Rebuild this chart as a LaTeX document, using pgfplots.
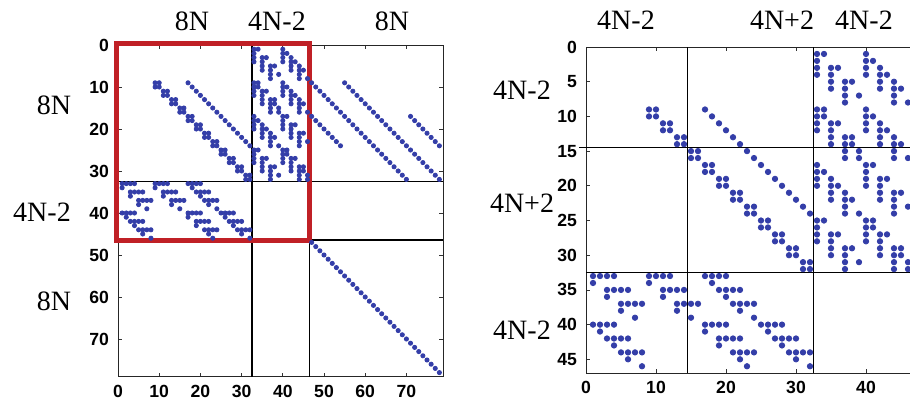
\documentclass[border=0pt]{standalone}
\usepackage{pgfplots}
\usepackage{pgfplotstable}
\pgfplotsset{compat=1.18}
\usepackage{fontspec}
\setmainfont{Liberation Serif}
\newfontfamily\tickfont{Liberation Sans}

\definecolor{spyblue}{RGB}{52,62,168}
\definecolor{boxred}{RGB}{192,32,38}

% Nonzero pattern shared by both matrices (column, row)
\pgfplotstableread{
c r
9 9
10 9
9 10
10 10
11 11
12 11
11 12
12 12
13 13
14 13
13 14
14 14
15 15
16 15
15 16
16 16
17 17
18 17
17 18
18 18
19 19
20 19
19 20
20 20
21 21
22 21
21 22
22 22
23 23
24 23
23 24
24 24
25 25
26 25
25 26
26 26
27 27
28 27
27 28
28 28
29 29
30 29
29 30
30 30
31 31
32 31
31 32
32 32
17 9
18 10
19 11
20 12
21 13
22 14
23 15
24 16
25 17
26 18
27 19
28 20
29 21
30 22
31 23
32 24
33 1
34 1
40 1
33 2
40 2
41 2
33 3
35 3
36 3
40 3
42 3
33 4
35 4
40 4
42 4
43 4
35 5
37 5
38 5
42 5
44 5
35 6
37 6
42 6
44 6
45 6
37 7
39 7
44 7
37 8
44 8
46 8
33 9
34 9
40 9
33 10
34 10
40 10
41 10
33 11
35 11
36 11
40 11
42 11
33 12
35 12
40 12
42 12
43 12
35 13
37 13
38 13
42 13
44 13
35 14
37 14
38 14
42 14
44 14
45 14
37 15
39 15
44 15
37 16
39 16
44 16
46 16
33 17
40 17
41 17
33 18
34 18
40 18
33 19
35 19
40 19
42 19
43 19
33 20
35 20
36 20
40 20
42 20
35 21
37 21
42 21
44 21
45 21
35 22
37 22
38 22
42 22
44 22
37 23
44 23
46 23
37 24
39 24
44 24
33 25
34 25
40 25
41 25
33 26
40 26
41 26
33 27
35 27
36 27
40 27
42 27
43 27
33 28
35 28
40 28
42 28
35 29
37 29
38 29
42 29
44 29
45 29
35 30
37 30
42 30
44 30
45 30
37 31
39 31
44 31
46 31
37 32
44 32
46 32
1 33
2 33
3 33
4 33
9 33
10 33
11 33
12 33
17 33
18 33
19 33
20 33
1 34
9 34
18 34
3 35
4 35
5 35
6 35
11 35
12 35
13 35
14 35
19 35
20 35
21 35
22 35
3 36
11 36
20 36
5 37
6 37
7 37
8 37
13 37
14 37
15 37
16 37
21 37
22 37
23 37
24 37
5 38
13 38
22 38
7 39
15 39
24 39
1 40
2 40
3 40
4 40
17 40
18 40
19 40
20 40
25 40
26 40
27 40
28 40
2 41
17 41
26 41
3 42
4 42
5 42
6 42
19 42
20 42
21 42
22 42
27 42
28 42
29 42
30 42
4 43
19 43
28 43
5 44
6 44
7 44
8 44
21 44
22 44
23 44
24 44
29 44
30 44
31 44
32 44
6 45
22 45
30 45
8 46
23 46
32 46
}\corepattern

% Extra nonzeros of the full 78x78 matrix
\pgfplotstableread{
c r
47 9
48 10
49 11
50 12
51 13
52 14
53 15
54 16
55 17
56 18
57 19
58 20
59 21
60 22
61 23
62 24
63 25
64 26
65 27
66 28
67 29
68 30
69 31
70 32
47 17
48 18
49 19
50 20
51 21
52 22
53 23
54 24
55 9
56 10
57 11
58 12
59 13
60 14
61 15
62 16
63 17
64 18
65 19
66 20
67 21
68 22
69 23
70 24
71 25
72 26
73 27
74 28
75 29
76 30
77 31
78 32
71 17
72 18
73 19
74 20
75 21
76 22
77 23
78 24
47 47
48 48
49 49
50 50
51 51
52 52
53 53
54 54
55 55
56 56
57 57
58 58
59 59
60 60
61 61
62 62
63 63
64 64
65 65
66 66
67 67
68 68
69 69
70 70
71 71
72 72
73 73
74 74
75 75
76 76
77 77
78 78
}\outerpattern

\pgfplotsset{
  spystyle/.style={
    scale only axis,
    y dir=reverse,
    axis line style={black!85, line width=0.5pt},
    tick align=inside,
    major tick length=2pt,
    tick style={black!80, line width=0.4pt},
    /pgf/number format/assume math mode=true,
    tick label style={font=\tickfont\bfseries\fontsize{8.8}{10}\selectfont},
    xticklabel style={yshift=-0.5pt},
    yticklabel style={xshift=-1pt},
    clip=false,
  },
}
\tikzset{blocklabel/.style={font=\fontsize{14}{16}\selectfont}}

\begin{document}
\begin{tikzpicture}
% ---------- full matrix ----------
\begin{axis}[spystyle,
  at={(59pt,-22.5pt)}, anchor=north west,
  width=162.75pt, height=165.9pt,
  xmin=0, xmax=79, ymin=0, ymax=79,
  xtick={0,10,...,70}, ytick={0,10,...,70},
]
\addplot[only marks, mark=*, mark size=1.05pt, color=spyblue, mark options={draw=none, fill=spyblue}]
  table[x=c, y=r] {\corepattern};
\addplot[only marks, mark=*, mark size=1.05pt, color=spyblue, mark options={draw=none, fill=spyblue}]
  table[x=c, y=r] {\outerpattern};
\draw[black, line width=0.8pt] (axis cs:32.5,0) -- (axis cs:32.5,79);
\draw[black, line width=0.8pt] (axis cs:46.5,0) -- (axis cs:46.5,79);
\draw[black, line width=0.8pt] (axis cs:0,32.5) -- (axis cs:79,32.5);
\draw[black, line width=0.8pt] (axis cs:0,46.5) -- (axis cs:79,46.5);
\draw[boxred, line width=2.6pt] (axis cs:-0.3,-0.3) rectangle (axis cs:46.5,46.5);
\end{axis}

% ---------- reduced matrix ----------
\begin{axis}[spystyle,
  at={(293pt,-23.5pt)}, anchor=north west,
  width=164.5pt, height=163.1pt,
  xmin=0, xmax=47, ymin=0, ymax=47,
  xtick={0,10,...,40}, ytick={0,5,...,45},
]
\addplot[only marks, mark=*, mark size=1.35pt, color=spyblue, mark options={draw=none, fill=spyblue}]
  table[x=c, y=r] {\corepattern};
\draw[black, line width=0.8pt] (axis cs:14.5,0) -- (axis cs:14.5,47);
\draw[black, line width=0.8pt] (axis cs:32.5,0) -- (axis cs:32.5,47);
\draw[black, line width=0.8pt] (axis cs:-1,14.5) -- (axis cs:47,14.5);
\draw[black, line width=0.8pt] (axis cs:0,32.5) -- (axis cs:47,32.5);
\end{axis}

% block size labels
\node[blocklabel] at (96pt,-10.5pt) {8N};
\node[blocklabel] at (138.5pt,-10.5pt) {4N-2};
\node[blocklabel] at (196pt,-10.5pt) {8N};
\node[blocklabel] at (27pt,-52.5pt) {8N};
\node[blocklabel] at (21pt,-106pt) {4N-2};
\node[blocklabel] at (27pt,-150.5pt) {8N};

\node[blocklabel] at (313pt,-10pt) {4N-2};
\node[blocklabel] at (391pt,-10pt) {4N+2};
\node[blocklabel] at (432pt,-10pt) {4N-2};
\node[blocklabel] at (261pt,-45pt) {4N-2};
\node[blocklabel] at (261pt,-101.5pt) {4N+2};
\node[blocklabel] at (261pt,-165pt) {4N-2};

\pgfresetboundingbox
\useasboundingbox (0,0) rectangle (455pt,-203.5pt);
\end{tikzpicture}
\end{document}
